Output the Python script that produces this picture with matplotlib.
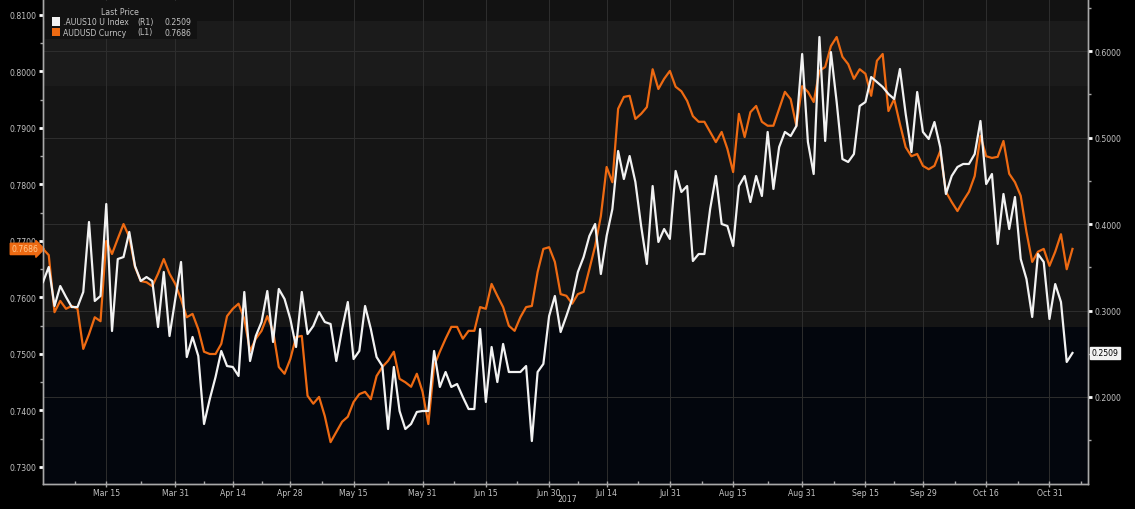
import matplotlib.pyplot as plt
import matplotlib.transforms as mtransforms
from matplotlib.patches import Rectangle
import numpy as np
import pandas as pd

# business days, first point Feb 28 2017, last Nov 6 2017
start_date = '2017-02-28'
n_days = 180

# AUDUSD Curncy (L1)
audusd = [
    0.7686, 0.7675, 0.7574, 0.7594, 0.7580, 0.7585, 0.7580, 0.7509, 0.7535, 0.7565,
    0.7558, 0.7700, 0.7677, 0.7704, 0.7730, 0.7707, 0.7654, 0.7629, 0.7627, 0.7620,
    0.7642, 0.7668, 0.7642, 0.7624, 0.7597, 0.7565, 0.7571, 0.7544, 0.7504, 0.7500,
    0.7500, 0.7518, 0.7567, 0.7580, 0.7589, 0.7562, 0.7505, 0.7527, 0.7541, 0.7567,
    0.7541, 0.7477, 0.7465, 0.7491, 0.7530, 0.7532, 0.7426, 0.7412, 0.7424, 0.7390,
    0.7344, 0.7362, 0.7380, 0.7389, 0.7415, 0.7429, 0.7433, 0.7420, 0.7461, 0.7477,
    0.7488, 0.7504, 0.7456, 0.7450, 0.7442, 0.7465, 0.7433, 0.7376, 0.7479, 0.7504,
    0.7527, 0.7548, 0.7548, 0.7527, 0.7541, 0.7541, 0.7583, 0.7580, 0.7624, 0.7603,
    0.7583, 0.7550, 0.7541, 0.7565, 0.7583, 0.7585, 0.7645, 0.7686, 0.7689, 0.7663,
    0.7606, 0.7603, 0.7589, 0.7606, 0.7610, 0.7650, 0.7691, 0.7744, 0.7831, 0.7804,
    0.7934, 0.7955, 0.7957, 0.7916, 0.7925, 0.7937, 0.8004, 0.7969, 0.7987, 0.8001,
    0.7973, 0.7965, 0.7948, 0.7921, 0.7911, 0.7911, 0.7893, 0.7875, 0.7893, 0.7863,
    0.7822, 0.7925, 0.7884, 0.7928, 0.7939, 0.7911, 0.7904, 0.7904, 0.7934, 0.7964,
    0.7951, 0.7904, 0.7974, 0.7964, 0.7946, 0.8001, 0.8008, 0.8045, 0.8061, 0.8026,
    0.8013, 0.7987, 0.8004, 0.7996, 0.7957, 0.8019, 0.8031, 0.7930, 0.7951, 0.7907,
    0.7866, 0.7850, 0.7854, 0.7833, 0.7827, 0.7833, 0.7859, 0.7787, 0.7769, 0.7753,
    0.7771, 0.7787, 0.7815, 0.7886, 0.7850, 0.7847, 0.7849, 0.7877, 0.7819, 0.7804,
    0.7780, 0.7716, 0.7663, 0.7681, 0.7686, 0.7656, 0.7681, 0.7712, 0.7650, 0.7686,
]

# .AUUS10 U Index (R1)
auus10 = [
    0.3329, 0.3503, 0.3052, 0.3283, 0.3156, 0.3040, 0.3040, 0.3214, 0.4023, 0.3110,
    0.3168, 0.4231, 0.2763, 0.3595, 0.3618, 0.3908, 0.3514, 0.3341, 0.3387, 0.3341,
    0.2809, 0.3445, 0.2705, 0.3133, 0.3561, 0.2462, 0.2694, 0.2474, 0.1688, 0.1977,
    0.2231, 0.2532, 0.2358, 0.2347, 0.2243, 0.3214, 0.2416, 0.2705, 0.2867, 0.3225,
    0.2636, 0.3249, 0.3133, 0.2902, 0.2578, 0.3214, 0.2728, 0.2821, 0.2983, 0.2867,
    0.2844, 0.2416, 0.2786, 0.3098, 0.2439, 0.2532, 0.3052, 0.2786, 0.2462, 0.2358,
    0.1630, 0.2347, 0.1838, 0.1630, 0.1688, 0.1827, 0.1838, 0.1838, 0.2532, 0.2116,
    0.2289, 0.2116, 0.2150, 0.2000, 0.1861, 0.1861, 0.2786, 0.1942, 0.2578, 0.2173,
    0.2613, 0.2289, 0.2289, 0.2289, 0.2358, 0.1491, 0.2289, 0.2382, 0.2936, 0.3168,
    0.2751, 0.2936, 0.3133, 0.3445, 0.3618, 0.3861, 0.4000, 0.3422, 0.3861, 0.4173,
    0.4844, 0.4520, 0.4786, 0.4486, 0.3977, 0.3538, 0.4439, 0.3792, 0.3942, 0.3827,
    0.4613, 0.4370, 0.4439, 0.3572, 0.3653, 0.3653, 0.4173, 0.4555, 0.4000, 0.3977,
    0.3746, 0.4439, 0.4555, 0.4254, 0.4555, 0.4324, 0.5064, 0.4405, 0.4890, 0.5064,
    0.5017, 0.5133, 0.5965, 0.4948, 0.4578, 0.6162, 0.4960, 0.5988, 0.5410, 0.4751,
    0.4717, 0.4809, 0.5364, 0.5410, 0.5699, 0.5642, 0.5584, 0.5503, 0.5445, 0.5792,
    0.5272, 0.4832, 0.5526, 0.5064, 0.4983, 0.5179, 0.4890, 0.4347, 0.4555, 0.4659,
    0.4694, 0.4694, 0.4809, 0.5191, 0.4462, 0.4578, 0.3769, 0.4347, 0.3942, 0.4312,
    0.3595, 0.3364, 0.2925, 0.3653, 0.3561, 0.2902, 0.3306, 0.3098, 0.2405, 0.2509,
]

tick_dates = ['2017-03-15', '2017-03-31', '2017-04-14', '2017-04-28', '2017-05-15',
              '2017-05-31', '2017-06-15', '2017-06-30', '2017-07-14', '2017-07-31',
              '2017-08-15', '2017-08-31', '2017-09-15', '2017-09-29', '2017-10-16',
              '2017-10-31']
tick_labels = ['Mar 15', 'Mar 31', 'Apr 14', 'Apr 28', 'May 15', 'May 31', 'Jun 15',
               'Jun 30', 'Jul 14', 'Jul 31', 'Aug 15', 'Aug 31', 'Sep 15', 'Sep 29',
               'Oct 16', 'Oct 31']

dates = pd.bdate_range(start_date, periods=n_days)
x = np.arange(n_days)
tick_pos = [dates.get_loc(pd.Timestamp(d)) for d in tick_dates]

ORANGE = '#ee6a12'
TXT = '#c4c4c4'
GRID = '#2e2e2e'
FS = 5.6

fig = plt.figure(figsize=(11.35, 5.10), dpi=100, facecolor='black')
ax = fig.add_axes([43 / 1135, 25 / 510, 1045 / 1135, 485 / 510])
ax.set_facecolor('#03060d')
ax2 = ax.twinx()

ax.set_xlim(0, 181.7)
ax.set_ylim(0.72699, 0.81283)
ax2.set_ylim(0.09942, 0.66012)

# background bands
ax.axhspan(0.72699, 0.75478, color='#03060d', zorder=0, lw=0)
ax.axhspan(0.75478, 0.79743, color='#151515', zorder=0, lw=0)
ax.axhspan(0.79743, 0.80894, color='#1b1b1b', zorder=0, lw=0)
ax.axhspan(0.80894, 0.81283, color='#121212', zorder=0, lw=0)

# grid
for p in tick_pos:
    ax.axvline(p, color=GRID, lw=0.7, zorder=1)
r_ticks = [0.2, 0.3, 0.4, 0.5, 0.6]
trans = mtransforms.blended_transform_factory(ax.transAxes, ax2.transData)
for v in r_ticks:
    ax.plot([0, 1], [v, v], transform=trans, color=GRID, lw=0.7, zorder=1)

ax.plot(x, audusd, color=ORANGE, lw=1.6, zorder=3)
ax2.plot(x, auus10, color='#f2f2f2', lw=1.6, zorder=3)

# axes styling
for a in (ax, ax2):
    for s in a.spines.values():
        s.set_color('#a8a8a8')
        s.set_linewidth(1.0)
    a.spines['top'].set_visible(False)

ax.set_xticks(tick_pos)
ax.set_xticklabels(tick_labels)
mids = [(tick_pos[i] + tick_pos[i + 1]) / 2 for i in range(len(tick_pos) - 1)]
ax.set_xticks([tick_pos[0] - 5.5] + mids + [tick_pos[-1] + 5.5], minor=True)
ax.tick_params(axis='x', which='major', colors='#a8a8a8', labelcolor=TXT, labelsize=FS,
               direction='inout', length=4, width=1, pad=1)
ax.tick_params(axis='x', which='minor', colors='#a8a8a8', direction='in', length=2, width=1)

ax.set_yticks(np.arange(0.73, 0.8101, 0.01))
ax.set_yticks(np.arange(0.735, 0.8101, 0.01), minor=True)
ax.set_yticklabels(['%.4f' % v for v in np.arange(0.73, 0.8101, 0.01)])
ax.tick_params(axis='y', which='major', colors='white', labelcolor=TXT, labelsize=FS,
               direction='out', length=3, width=2, pad=2)
ax.tick_params(axis='y', which='minor', colors='#a8a8a8', direction='out', length=2, width=1)

ax2.set_yticks(r_ticks)
ax2.set_yticks([0.15, 0.25, 0.35, 0.45, 0.55, 0.65], minor=True)
ax2.set_yticklabels(['%.4f' % v for v in r_ticks])
ax2.tick_params(axis='y', which='major', colors='white', labelcolor=TXT, labelsize=FS,
                direction='out', length=3, width=2, pad=2)
ax2.tick_params(axis='y', which='minor', colors='#a8a8a8', direction='out', length=2, width=1)

# year label
ytrans = mtransforms.blended_transform_factory(ax.transData, ax.transAxes)
ax.text(91.1, -0.03, '2017', transform=ytrans, ha='center', va='center',
        color=TXT, fontsize=FS)

# last value tags
ax.text(-0.0045, audusd[-1], '0.7686', transform=mtransforms.blended_transform_factory(ax.transAxes, ax.transData),
        ha='right', va='center', fontsize=FS, color='#ffc890', zorder=10, clip_on=False,
        bbox=dict(boxstyle='rarrow,pad=0.15', fc=ORANGE, ec=ORANGE))
ax2.text(1.003, auus10[-1], '0.2509', transform=mtransforms.blended_transform_factory(ax2.transAxes, ax2.transData),
         ha='left', va='center', fontsize=FS, color='black', zorder=10, clip_on=False,
         bbox=dict(boxstyle='square,pad=0.2', fc='#f2f2f2', ec='#f2f2f2'))

# legend box
fig.patches.append(Rectangle((45 / 1135, 1 - 40 / 510), 152 / 1135, 38 / 510,
                             transform=fig.transFigure, fc='#121212', ec='none', zorder=20))
fig.text(120 / 1135, 1 - 12.5 / 510, 'Last Price', ha='center', va='center',
         color=TXT, fontsize=FS, zorder=21)
rows = [('#f2f2f2', '.AUUS10 U Index', '(R1)', '0.2509', 22.5),
        (ORANGE, 'AUDUSD Curncy', '(L1)', '0.7686', 33)]
for col, name, side, val, yp in rows:
    fy = 1 - yp / 510
    fig.patches.append(Rectangle((52 / 1135, fy - 4 / 510), 8 / 1135, 8 / 510,
                                 transform=fig.transFigure, fc=col, ec='none', zorder=21))
    fig.text(63 / 1135, fy, name, ha='left', va='center', color=TXT, fontsize=FS, zorder=21)
    fig.text(137 / 1135, fy, side, ha='left', va='center', color=TXT, fontsize=FS, zorder=21)
    fig.text(191 / 1135, fy, val, ha='right', va='center', color=TXT, fontsize=FS, zorder=21)

fig.savefig('out.png', dpi=100, facecolor='black')
